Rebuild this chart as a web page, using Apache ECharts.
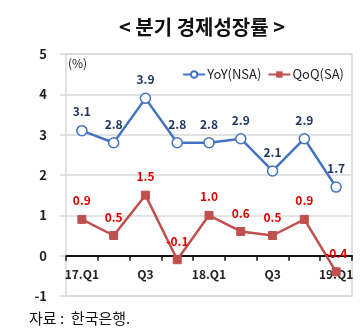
<!DOCTYPE html>
<html><head><meta charset="utf-8">
<script src="https://cdn.jsdelivr.net/npm/echarts@6/dist/echarts.min.js"></script>
<style>html,body{margin:0;padding:0;background:#fff}#c{width:363px;height:335px}</style>
</head><body><div id="c"></div>
<script>
const categories = ['17.Q1','Q2','Q3','Q4','18.Q1','Q2','Q3','Q4','19.Q1'];
const yoy = [3.1, 2.8, 3.9, 2.8, 2.8, 2.9, 2.1, 2.9, 1.7];
const qoq = [0.9, 0.5, 1.5, -0.1, 1.0, 0.6, 0.5, 0.9, -0.4];
const yTicks = [-1, 0, 1, 2, 3, 4, 5];
const titleText = '< 분기 경제성장률 >';
const sourceText = '자료 :  한국은행.';
const F = '"Noto Sans CJK KR", "Noto Sans", sans-serif';

const gridTop = 54, gridBottom = 39, H = 335;
const unitPx = (H - gridTop - gridBottom) / (yTicks[yTicks.length-1] - yTicks[0]);

const chart = echarts.init(document.getElementById('c'), null, {renderer: 'canvas'});
chart.setOption({
  animation: false,
  textStyle: {fontFamily: F},
  title: {text: titleText, left: 197, textAlign: 'center', top: 12,
    textStyle: {fontFamily: F, fontSize: 20, fontWeight: 'bold', color: '#111'}},
  graphic: [{type: 'text', left: 29, top: 311,
    style: {text: sourceText, fontFamily: F, fontSize: 15, fill: '#111'}}],
  legend: {top: 63, right: 14, itemGap: 6, itemWidth: 22, itemHeight: 8,
    textStyle: {fontFamily: F, fontSize: 13, color: '#222', padding: [0,0,0,-3]},
    data: [{name: 'YoY(NSA)'}, {name: 'QoQ(SA)'}]},
  grid: {left: 66, right: 11, top: gridTop, bottom: gridBottom, show: true, borderColor: '#d9d9d9', borderWidth: 1.5},
  xAxis: {type: 'category', data: categories, boundaryGap: true,
    offset: -unitPx * (0 - yTicks[0]),
    axisLine: {onZero: false, lineStyle: {color: '#111', width: 2}},
    axisTick: {show: true, interval: 0, length: 5, lineStyle: {color: '#111', width: 1.5}},
    axisLabel: {interval: 1, margin: 13, fontFamily: F, fontSize: 12, fontWeight: 'bold', color: '#222'},
    splitLine: {show: false}},
  yAxis: {type: 'value', min: yTicks[0], max: yTicks[yTicks.length-1], interval: 1,
    name: '(%)', nameLocation: 'end', nameGap: -9,
    nameTextStyle: {align: 'left', verticalAlign: 'middle', padding: [0,0,0,2], fontFamily: F, fontSize: 12, color: '#222'},
    axisLine: {show: false},
    axisTick: {show: true, inside: false, length: 6, lineStyle: {color: '#d9d9d9', width: 1.5}},
    axisLabel: {margin: 19, fontFamily: F, fontSize: 13, fontWeight: 'bold', color: '#222'},
    splitLine: {lineStyle: {color: '#d9d9d9', width: 1.5}}},
  series: [
    {name: 'YoY(NSA)', type: 'line', data: yoy, symbol: 'circle', symbolSize: 10,
      lineStyle: {color: '#4472c4', width: 2.5},
      itemStyle: {color: '#fff', borderColor: '#4472c4', borderWidth: 1.5},
      label: {show: true, position: 'top', distance: 7, formatter: p => p.value.toFixed(1),
        fontFamily: F, fontSize: 12, fontWeight: 'bold', color: '#1f3864'}},
    {name: 'QoQ(SA)', type: 'line', data: qoq, symbol: 'rect', symbolSize: 8, z: 3,
      lineStyle: {color: '#c0504d', width: 2.5},
      itemStyle: {color: '#c0504d', borderColor: '#c0504d'},
      label: {show: true, position: 'top', distance: 8, formatter: p => p.value.toFixed(1),
        fontFamily: F, fontSize: 12, fontWeight: 'bold', color: '#dd0000'}}
  ]
});
</script></body></html>
